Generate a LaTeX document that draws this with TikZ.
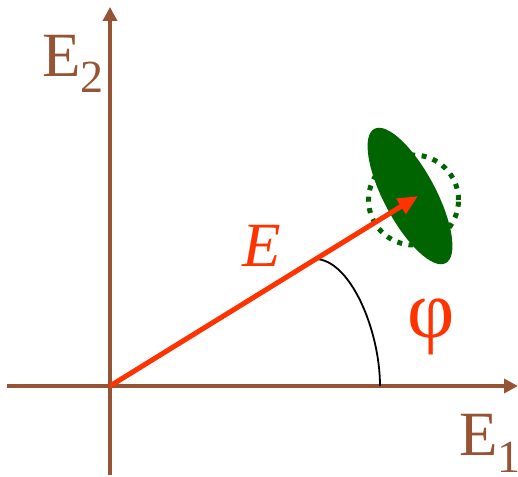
\documentclass[tikz,border=0pt]{standalone}
\usepackage{fontspec}
\setmainfont{Liberation Serif}
\usetikzlibrary{arrows.meta}
\definecolor{axbrown}{RGB}{150,84,52}
\definecolor{vred}{RGB}{255,51,0}
\definecolor{dgreen}{RGB}{0,100,0}
\tikzset{
  axis/.style={draw=axbrown, line width=3.5pt, -{Triangle[length=14pt,width=14pt]}},
  vec/.style={draw=vred, line width=5pt, -{Triangle[length=20pt,width=17pt]}},
  lbl/.style={inner sep=0pt, anchor=base west},
}
\begin{document}
\begin{tikzpicture}[x=1pt,y=1pt]
\useasboundingbox (0,0) rectangle (518,476);
\coordinate (O) at (110,90);
\coordinate (L) at (7,90);
\coordinate (R) at (518,90);
\coordinate (B) at (110,1);
\coordinate (T) at (110,469);
\coordinate (P) at (418,280);
\coordinate (A1) at (315,217);
\coordinate (A2) at (380,90);
% dotted circle
\draw[dgreen, line width=5pt, dash pattern=on 5pt off 6.5pt] (413.5,276) circle[radius=45];
% ellipse
\fill[dgreen] (410,280) ellipse[x radius=76, y radius=26, rotate=-62];
% axes
\draw[axis] (L) -- (R);
\draw[axis] (B) -- (T);
% angle arc
\draw[black, line width=1.8pt] (A1) .. controls (350,217) and (380,146) .. (A2);
% vector
\draw[vec] (O) -- (P);
% labels
\node[lbl, text=axbrown] (e2) at (42,399) {\fontsize{63}{70}\selectfont E\raisebox{-16pt}{\fontsize{46}{50}\selectfont 2}};
\node[lbl, text=axbrown] (e1) at (459,21) {\fontsize{63}{70}\selectfont E\raisebox{-17pt}{\fontsize{46}{50}\selectfont 1}};
\node[lbl, text=vred] (e) at (242,209) {\fontsize{63}{70}\selectfont\itshape E};
\node[inner sep=0pt, text=vred] (phi) at (431,149) {\fontsize{82}{90}\selectfont φ};
\end{tikzpicture}
\end{document}
